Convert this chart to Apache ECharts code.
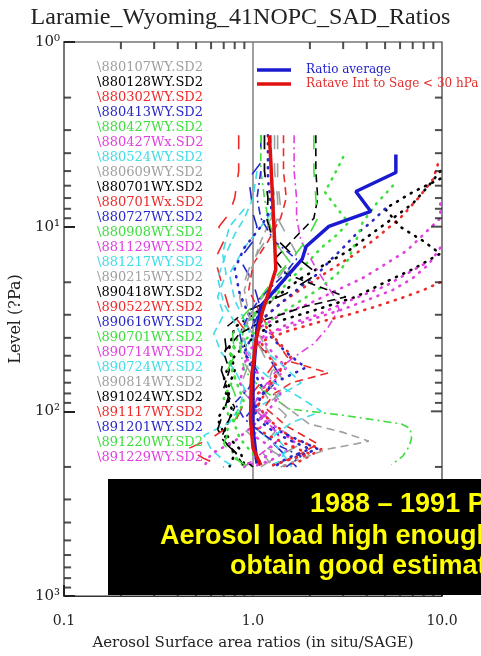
<!DOCTYPE html>
<html>
<head>
<meta charset="utf-8">
<script src="https://cdn.jsdelivr.net/npm/echarts@6/dist/echarts.min.js"></script>
<style>
  html, body { margin: 0; padding: 0; background: #fff; }
  #chart { width: 481px; height: 656px; }
</style>
</head>
<body>
<div id="chart"></div>
<script>
// flight names, in plotting order
var flightNames = [
    '\\880107WY.SD2', '\\880128WY.SD2', '\\880302WY.SD2', '\\880413WY.SD2', '\\880427WY.SD2',
    '\\880427Wx.SD2', '\\880524WY.SD2', '\\880609WY.SD2', '\\880701WY.SD2', '\\880701Wx.SD2',
    '\\880727WY.SD2', '\\880908WY.SD2', '\\881129WY.SD2', '\\881217WY.SD2', '\\890215WY.SD2',
    '\\890418WY.SD2', '\\890522WY.SD2', '\\890616WY.SD2', '\\890701WY.SD2', '\\890714WY.SD2',
    '\\890724WY.SD2', '\\890814WY.SD2', '\\891024WY.SD2', '\\891117WY.SD2', '\\891201WY.SD2',
    '\\891220WY.SD2', '\\891229WY.SD2'
];

// each profile: [ratio, level hPa]
var p880107 = [[1.15,3.2],[1.15,5],[1.2,7],[1.2,9],[1.3,12],[1.6,16],[1.4,22],[1.1,30],[0.9,40],[0.95,55],[0.85,75],[1.1,100],[1.4,125],[1.8,150],[1.3,180],[1.1,200]];
var p880128 = [[9.8,5.0],[8.5,6],[7,7.5],[5.5,9],[4.2,11],[3.2,13.5],[2.4,16],[1.8,19],[1.4,23],[1.1,28],[0.8,35],[0.75,45],[0.8,60],[0.72,80],[0.78,100],[0.7,130],[0.85,160],[0.9,195]];
var p880302 = [[9.5,4.6],[9,5.5],[7.5,7],[6,9],[4.5,11.5],[3.5,14],[2.6,17],[1.9,21],[1.4,26],[1.1,32],[1.3,40],[1.6,50],[1.3,65],[1.0,85],[1.2,110],[1.6,140],[2.3,160],[1.8,185],[1.4,200]];
var p880413 = [[1.1,3.2],[1.1,4.5],[0.95,5.5],[0.98,7],[1.0,8.5],[1.05,10],[1.0,12],[0.85,15],[1.0,20],[1.1,28],[0.95,38],[1.2,50],[1.4,65],[1.1,85],[0.9,110],[1.2,140],[1.5,175],[1.7,200]];
var p880427 = [[3,4.2],[2.7,5.2],[2.4,6.5],[2.8,8],[3.2,9.5],[2.8,11],[2.3,13],[1.9,16],[1.6,19],[1.3,24],[1.0,30],[0.85,38],[0.75,50],[0.8,65],[0.7,85],[0.75,110],[0.72,140],[0.8,175],[0.9,200]];
var p880427x = [[9.8,7.5],[9.8,9],[8,11],[6.5,13.5],[5,16],[3.8,19],[2.8,22],[2,26],[1.4,30],[1.05,36],[1.2,45],[1.5,58],[1.2,75],[1.0,95],[1.3,120],[1.7,150],[1.3,180],[1.0,200]];
var p880524 = [[1.25,3.2],[1.25,5.5],[1.3,8],[1.1,10],[0.9,13],[0.75,18],[0.8,25],[0.9,32],[1.0,42],[1.4,55],[1.8,70],[1.3,85],[0.95,100],[1.0,120],[1.3,150],[1.5,180],[1.6,200]];
var p880609 = [[1.3,3.2],[1.3,5],[1.35,7],[1.35,9],[1.5,11],[1.7,14],[1.3,20],[1.0,28],[0.9,36],[0.85,50],[1.0,65],[1.2,85],[1.5,105],[1.3,130],[1.1,160],[1.2,185],[1.3,200]];
var p880701 = [[9.8,5.5],[7,6.5],[5,8],[6,10],[8,12],[9.8,14],[7,17],[5,20],[3.5,24],[2.2,28],[1.3,33],[1.0,40],[0.8,50],[0.7,65],[0.75,85],[0.65,110],[0.72,140],[0.8,170],[0.75,200]];
var p880701x = [[0.84,3.2],[0.84,5],[0.8,7],[0.75,8.5],[0.66,10],[0.7,12],[0.63,15],[0.68,20],[0.75,28],[0.9,36],[1.1,45],[1.3,55],[1.1,70],[0.9,90],[0.8,115],[0.6,140],[0.45,160],[0.55,180],[0.7,200]];
var p880727 = [[5,8],[4.2,9.5],[3.5,11],[3.0,13],[2.6,15],[2.2,18],[1.8,21],[1.4,26],[1.15,31],[1.0,38],[0.9,48],[1.0,60],[1.15,78],[1.0,100],[1.3,125],[1.8,145],[2.2,160],[1.6,180],[1.2,200]];
var p880908 = [[1.1,3.2],[1.1,5],[1.15,7],[1.2,9],[1.3,12],[1.6,16],[1.4,21],[1.1,28],[0.9,35],[0.85,45],[0.9,60],[1.1,75],[1.55,97],[3,105],[6.1,117],[6.8,124],[6.9,140],[6.7,155],[6.2,175],[5.4,195]];
var p881129 = [[9.8,13],[8.5,16],[7,19],[5.5,22],[4,25],[3,28],[2,32],[1.3,37],[1.0,45],[0.9,55],[0.85,70],[1.0,90],[1.2,110],[1.0,135],[1.3,160],[1.1,185],[0.9,200]];
var p881217 = [[0.9,8],[0.75,10],[0.69,14],[0.72,18],[0.65,24],[0.7,30],[0.62,38],[0.68,48],[0.8,60],[0.9,75],[0.85,95],[0.75,115],[0.55,135],[0.6,160],[0.7,185],[0.8,200]];
var p890215 = [[1.35,3.2],[1.35,5.5],[1.4,8],[1.3,10],[1.1,13],[0.95,17],[0.85,24],[0.9,32],[1.05,42],[1.2,55],[1.5,70],[1.3,85],[1.0,105],[0.9,125],[1.1,150],[1.4,175],[1.3,200]];
var p890418 = [[1.15,3.2],[1.15,5],[1.2,7],[1.18,9],[1.25,11],[1.6,14],[2.2,18],[1.5,23],[0.9,29],[0.7,36],[0.72,45],[0.68,60],[0.75,80],[0.7,100],[0.65,125],[0.72,150],[0.85,175],[1.0,200]];
var p890522 = [[1.45,3.2],[1.45,5],[1.5,7],[1.4,9],[1.2,12],[1.0,16],[0.95,22],[1.1,30],[1.3,40],[1.5,50],[1.6,54],[2.5,62],[1.6,70],[1.3,80],[1.15,95],[1.5,120],[2.2,150],[1.7,175],[1.2,200]];
var p890616 = [[1.2,3.2],[1.2,5.5],[1.25,8],[1.1,10],[0.9,13],[0.8,17],[0.85,23],[0.95,30],[1.2,38],[1.5,48],[1.9,58],[1.3,70],[1.0,90],[1.05,110],[1.3,130],[1.6,145],[2.0,160],[1.5,180],[1.3,200]];
var p890701 = [[5.5,6],[4.5,7.5],[3.8,9.5],[3.5,12],[3.2,15],[2.8,18],[2.2,22],[1.7,26],[1.3,31],[1.0,38],[0.8,45],[0.75,55],[0.82,70],[0.9,90],[0.78,110],[0.85,140],[1.0,170],[1.1,200]];
var p890714 = [[1.65,3.2],[1.65,5],[1.7,7],[1.7,9],[1.8,12],[2.1,16],[2.4,20],[2.7,24],[2.85,28],[2.5,35],[2.1,43],[1.6,52],[1.3,62],[1.1,78],[1.0,95],[1.2,115],[1.4,140],[1.1,170],[0.9,200]];
var p890724 = [[1.05,5],[1.0,7],[0.9,9],[0.8,11],[0.72,14],[0.65,19],[0.7,26],[0.8,33],[0.9,42],[1.0,55],[1.3,70],[1.8,85],[2.3,100],[1.6,115],[1.3,135],[1.5,160],[1.4,185],[1.2,200]];
var p890814 = [[1.25,3.2],[1.25,5],[1.3,7],[1.25,9],[1.1,12],[1.0,16],[0.9,22],[0.95,30],[1.1,40],[1.3,55],[1.2,70],[1.4,90],[1.98,117],[3,130],[4.1,145],[3.5,150],[2.5,160],[1.8,180],[1.4,200]];
var p891024 = [[2.15,3.2],[2.15,5],[2.2,7],[2.1,9],[1.6,12],[1.3,15],[1.5,18],[2.2,21],[3.1,24],[1.9,27],[1.15,32],[0.85,38],[0.7,48],[0.75,60],[0.7,75],[0.8,95],[0.72,120],[0.68,140],[0.8,165],[0.9,200]];
var p891117 = [[9.8,20],[8,22],[6,24.5],[4.5,27],[3.2,30],[2.2,33],[1.5,37],[1.1,42],[1.2,50],[1.4,60],[1.2,75],[1.05,95],[0.95,115],[1.2,135],[1.6,155],[2.0,170],[1.5,185],[1.2,200]];
var p891201 = [[1.1,5],[1.05,7],[1.1,9],[1.3,12],[1.7,15],[1.4,19],[1.1,24],[0.95,30],[0.85,38],[0.9,48],[1.05,60],[0.95,75],[0.8,90],[0.9,110],[1.1,130],[1.4,155],[1.8,175],[1.5,200]];
var p891220 = [[2.1,3.2],[2.1,5],[2.15,7],[2.2,9],[1.9,12],[1.6,15],[1.3,19],[1.1,24],[0.9,30],[0.78,38],[0.8,50],[0.72,62],[0.8,80],[0.85,100],[0.75,125],[0.7,150],[0.8,180],[0.95,200]];
var p891229 = [[8,16],[6.5,18],[5,21],[4,23],[3.0,26],[2.2,30],[1.5,34],[1.1,40],[0.9,50],[1.1,65],[1.4,80],[1.2,100],[1.0,120],[0.8,145],[0.6,170],[0.55,200]];

var profiles = [p880107, p880128, p880302, p880413, p880427, p880427x, p880524, p880609, p880701,
    p880701x, p880727, p880908, p881129, p881217, p890215, p890418, p890522, p890616, p890701,
    p890714, p890724, p890814, p891024, p891117, p891201, p891220, p891229];

var ratioAverage = [[5.7,4.07],[5.7,5.09],[3.5,6.45],[4.2,8.27],[2.52,9.96],[1.91,12.8],[1.82,15],[1.32,21.8],[1.10,26.9],[1.05,36],[1.0,67],[1.0,124],[1.05,192]];
var ratave30 = [[1.22,3.2],[1.24,4.3],[1.27,7.1],[1.30,11.7],[1.32,17],[1.21,22.7],[1.12,29],[1.04,40.6],[0.98,67],[0.97,110],[1.0,158],[1.1,196]];

var oneLine = [[1, 1], [1, 1000]];
var minorX = [0.2, 0.3, 0.4, 0.5, 0.6, 0.7, 0.8, 0.9, 2, 3, 4, 5, 6, 7, 8, 9];
var minorY = [2, 3, 4, 5, 6, 7, 8, 9, 20, 30, 40, 50, 60, 70, 80, 90, 200, 300, 400, 500, 600, 700, 800, 900];
var majorYRight = [10, 100];
var supDigits = ['\u2070', '\u00b9', '\u00b2', '\u00b3'];

var colorCycle = ['#a0a0a0', '#000000', '#ee2a2a', '#2828c8', '#3ede3e', '#e040e0', '#40dce8'];
var dashTypes = {
    dot: [1, 7],
    dash: [8, 5],
    dashdot: [8, 4, 2, 4],
    long: [14, 14]
};
var profileDash = ['long', 'dot', 'dot', 'long', 'dot', 'dot', 'dash', 'long', 'dot', 'long', 'dot',
    'dashdot', 'dot', 'dash', 'long', 'long', 'dash', 'dot', 'dot', 'dashdot', 'dash', 'dash',
    'dash', 'dot', 'dashdot', 'long', 'dot'];

var SERIF = '"Liberation Serif", "Times New Roman", serif';
var WIDE = '"DejaVu Serif", serif';
var FRAME = '#333';
var TICK = '#222';

var chart = echarts.init(document.getElementById('chart'));

var series = [];
for (var i = 0; i < profiles.length; i++) {
    var dotted = profileDash[i] === 'dot';
    series.push({
        name: flightNames[i],
        type: 'line',
        data: profiles[i],
        showSymbol: false,
        lineStyle: {
            color: colorCycle[i % colorCycle.length],
            width: dotted ? 2.6 : 1.6,
            cap: dotted ? 'round' : 'butt',
            type: dashTypes[profileDash[i]]
        },
        itemStyle: {color: colorCycle[i % colorCycle.length]}
    });
}
series.push({
    name: 'one',
    type: 'line',
    data: oneLine,
    showSymbol: false,
    lineStyle: {color: '#808080', width: 1.5},
    z: 1
});
series.push({
    name: 'Ratio average',
    type: 'line',
    data: ratioAverage,
    showSymbol: false,
    lineStyle: {color: '#1a1ad0', width: 3.5},
    itemStyle: {color: '#1a1ad0'},
    z: 5
});
series.push({
    name: 'Ratave Int to Sage < 30 hPa',
    type: 'line',
    data: ratave30,
    showSymbol: false,
    lineStyle: {color: '#e01010', width: 3.5},
    itemStyle: {color: '#e01010'},
    z: 6
});

// frame ticks: short marks placed through the axes
function tickSeries(name, data, size, offset) {
    return {
        name: name,
        type: 'scatter',
        data: data,
        symbol: 'rect',
        symbolSize: size,
        symbolOffset: offset,
        itemStyle: {color: TICK},
        clip: false,
        z: 7
    };
}
series.push(tickSeries('tb', minorX.map(function (v) { return [v, 999]; }), [2, 7], [0, -3.5]));
series.push(tickSeries('tt', minorX.map(function (v) { return [v, 1.001]; }), [2, 7], [0, 3.5]));
series.push(tickSeries('tl', minorY.map(function (v) { return [0.1001, v]; }), [7, 2], [3.5, 0]));
series.push(tickSeries('tr', minorY.map(function (v) { return [9.99, v]; }), [7, 2], [-3.5, 0]));
series.push(tickSeries('trm', majorYRight.map(function (v) { return [9.99, v]; }), [11, 2], [-5.5, 0]));

var option = {
    animation: false,
    backgroundColor: '#fff',
    title: {
        text: 'Laramie_Wyoming_41NOPC_SAD_Ratios',
        left: 'center',
        top: 1,
        textStyle: {fontFamily: SERIF, fontSize: 24, fontWeight: 'normal', color: '#222'}
    },
    legend: [{
        orient: 'vertical',
        left: 92,
        top: 55,
        itemWidth: 0,
        itemHeight: 15,
        itemGap: 0,
        selectedMode: false,
        data: flightNames.map(function (n, i) {
            return {name: n, icon: 'none', textStyle: {color: colorCycle[i % colorCycle.length]}};
        }),
        textStyle: {fontFamily: WIDE, fontSize: 13, lineHeight: 15, padding: [0, 0, 0, -5]}
    }, {
        orient: 'vertical',
        left: 252,
        top: 58,
        itemWidth: 34,
        itemHeight: 3.5,
        itemGap: 0,
        selectedMode: false,
        data: [
            {name: 'Ratio average', icon: 'rect', textStyle: {color: '#2222cc'}},
            {name: 'Ratave Int to Sage < 30 hPa', icon: 'rect', textStyle: {color: '#e03030'}}
        ],
        textStyle: {fontFamily: WIDE, fontSize: 12, lineHeight: 14, padding: [0, 0, 0, 10]}
    }],
    grid: {left: 64, right: 39, top: 42, bottom: 58, show: true, borderColor: FRAME, borderWidth: 1.2},
    xAxis: {
        type: 'log',
        min: 0.1,
        max: 10,
        axisLine: {show: true, onZero: false, lineStyle: {color: FRAME, width: 1.2}},
        axisTick: {show: true, inside: true, length: 11, lineStyle: {color: TICK, width: 2}},
        splitLine: {show: false},
        axisLabel: {
            fontFamily: WIDE, fontSize: 14, color: '#222', margin: 18,
            formatter: function (v) { return v.toFixed(1); }
        },
        name: 'Aerosol Surface area ratios (in situ/SAGE)',
        nameLocation: 'middle',
        nameGap: 40,
        nameTextStyle: {fontFamily: WIDE, fontSize: 15, color: '#222'}
    },
    yAxis: {
        type: 'log',
        min: 1,
        max: 1000,
        inverse: true,
        axisLine: {show: true, onZero: false, lineStyle: {color: '#777', width: 2}},
        axisTick: {show: true, inside: true, length: 11, lineStyle: {color: TICK, width: 2}},
        splitLine: {show: false},
        axisLabel: {
            fontFamily: WIDE, fontSize: 15, color: '#222', margin: 4,
            formatter: function (v) { return '10' + supDigits[Math.round(Math.log10(v))]; }
        },
        name: 'Level (?Pa)',
        nameLocation: 'middle',
        nameGap: 38,
        nameRotate: 90,
        nameTextStyle: {fontFamily: WIDE, fontSize: 16, color: '#222'}
    },
    graphic: [{
        type: 'rect',
        left: 108,
        top: 479,
        shape: {width: 380, height: 116},
        style: {fill: '#000'},
        z: 100
    }, {
        type: 'text',
        left: 310,
        top: 491,
        style: {text: '1988 \u2013 1991 Period', fill: '#ffff00', font: 'bold 27px "Liberation Sans", Arial, sans-serif'},
        z: 101
    }, {
        type: 'text',
        left: 160,
        top: 523,
        style: {text: 'Aerosol load high enough to', fill: '#ffff00', font: 'bold 27px "Liberation Sans", Arial, sans-serif'},
        z: 101
    }, {
        type: 'text',
        left: 230,
        top: 553,
        style: {text: 'obtain good estimates', fill: '#ffff00', font: 'bold 27px "Liberation Sans", Arial, sans-serif'},
        z: 101
    }],
    series: series
};

chart.setOption(option);
</script>
</body>
</html>
